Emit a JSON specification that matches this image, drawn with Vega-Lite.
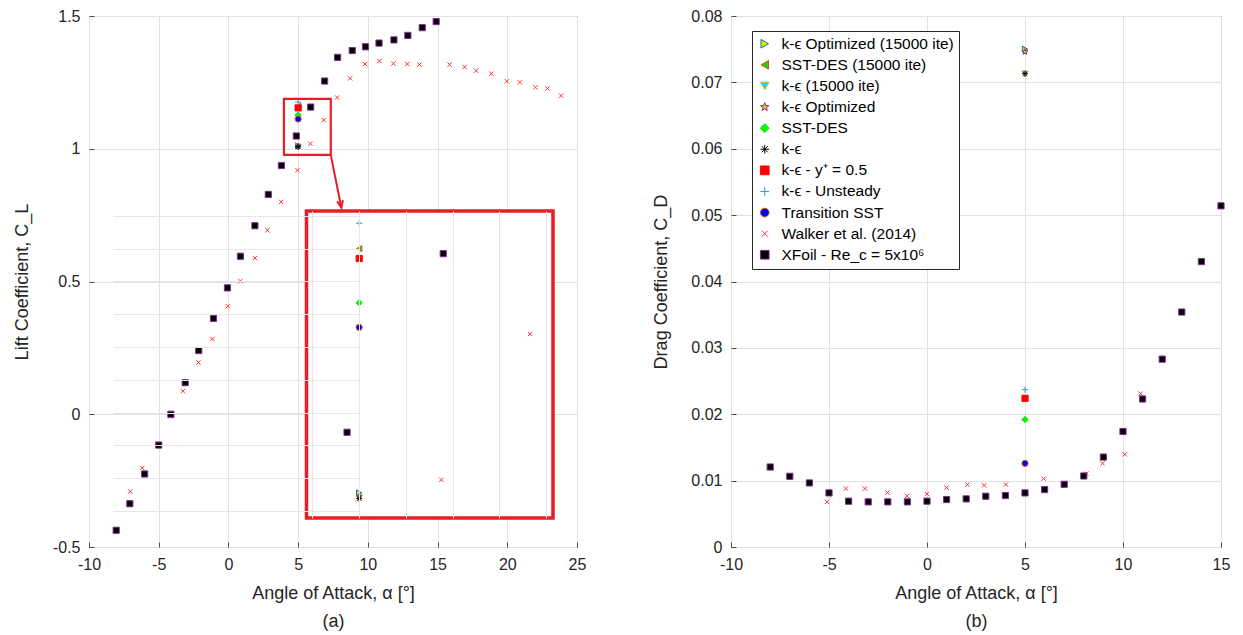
{
"$schema": "https://vega.github.io/schema/vega-lite/v6.json",
"background": "white",
"padding": {"left": 12, "top": 7, "right": 5, "bottom": 0},
"config": {
  "font": "Liberation Sans",
  "view": {"stroke": "#4d4d4d", "strokeWidth": 1},
  "axis": {"labelFont": "Liberation Sans", "labelFontSize": 16, "labelColor": "#262626", "titleFont": "Liberation Sans", "titleFontSize": 18, "titleFontWeight": "normal", "titleColor": "#262626", "gridColor": "#e1e1e1", "gridOpacity": 1, "domain": false, "tickColor": "#4d4d4d", "tickSize": -5, "labelPadding": 14, "labelFlush": false},
  "legend": {"orient": "none", "legendX": 21, "legendY": 15, "labelFont": "Liberation Sans", "labelFontSize": 15.5, "labelColor": "#000000", "symbolSize": 75, "rowPadding": 4.1, "padding": 5, "strokeColor": "#262626", "fillColor": "white", "labelOffset": 9, "labelLimit": 400, "symbolOpacity": 1, "symbolStrokeWidth": 1}
},
"datasets": {
  "cl": [
    {"series": "k-ϵ Optimized (15000 ite)", "alpha": 5, "CL": 1.011},
    {"series": "SST-DES (15000 ite)", "alpha": 5, "CL": 1.160},
    {"series": "k-ϵ (15000 ite)", "alpha": 5, "CL": 1.008},
    {"series": "k-ϵ Optimized", "alpha": 5, "CL": 1.009},
    {"series": "SST-DES", "alpha": 5, "CL": 1.127},
    {"series": "k-ϵ", "alpha": 5, "CL": 1.0075},
    {"series": "k-ϵ - y⁺ = 0.5", "alpha": 5, "CL": 1.154},
    {"series": "k-ϵ - Unsteady", "alpha": 5, "CL": 1.1755},
    {"series": "Transition SST", "alpha": 5, "CL": 1.112},
    {"series": "Walker et al. (2014)", "alpha": -7.04, "CL": -0.291},
    {"series": "Walker et al. (2014)", "alpha": -6.18, "CL": -0.202},
    {"series": "Walker et al. (2014)", "alpha": -4.15, "CL": -0.008},
    {"series": "Walker et al. (2014)", "alpha": -3.27, "CL": 0.087},
    {"series": "Walker et al. (2014)", "alpha": -2.15, "CL": 0.195},
    {"series": "Walker et al. (2014)", "alpha": -1.15, "CL": 0.284},
    {"series": "Walker et al. (2014)", "alpha": -0.05, "CL": 0.407},
    {"series": "Walker et al. (2014)", "alpha": 0.86, "CL": 0.502},
    {"series": "Walker et al. (2014)", "alpha": 1.9, "CL": 0.588},
    {"series": "Walker et al. (2014)", "alpha": 2.8, "CL": 0.693},
    {"series": "Walker et al. (2014)", "alpha": 3.78, "CL": 0.80},
    {"series": "Walker et al. (2014)", "alpha": 4.95, "CL": 0.919},
    {"series": "Walker et al. (2014)", "alpha": 5.88, "CL": 1.019},
    {"series": "Walker et al. (2014)", "alpha": 6.83, "CL": 1.108},
    {"series": "Walker et al. (2014)", "alpha": 7.8, "CL": 1.193},
    {"series": "Walker et al. (2014)", "alpha": 8.73, "CL": 1.265},
    {"series": "Walker et al. (2014)", "alpha": 9.8, "CL": 1.319},
    {"series": "Walker et al. (2014)", "alpha": 10.83, "CL": 1.33},
    {"series": "Walker et al. (2014)", "alpha": 11.83, "CL": 1.321},
    {"series": "Walker et al. (2014)", "alpha": 12.83, "CL": 1.319},
    {"series": "Walker et al. (2014)", "alpha": 13.7, "CL": 1.317},
    {"series": "Walker et al. (2014)", "alpha": 15.86, "CL": 1.317},
    {"series": "Walker et al. (2014)", "alpha": 16.94, "CL": 1.308},
    {"series": "Walker et al. (2014)", "alpha": 17.77, "CL": 1.294},
    {"series": "Walker et al. (2014)", "alpha": 18.85, "CL": 1.283},
    {"series": "Walker et al. (2014)", "alpha": 19.97, "CL": 1.254},
    {"series": "Walker et al. (2014)", "alpha": 20.9, "CL": 1.25},
    {"series": "Walker et al. (2014)", "alpha": 22.02, "CL": 1.231},
    {"series": "Walker et al. (2014)", "alpha": 22.88, "CL": 1.227},
    {"series": "Walker et al. (2014)", "alpha": 23.86, "CL": 1.20},
    {"series": "XFoil - Re_c = 5x10⁶", "alpha": -8.05, "CL": -0.437},
    {"series": "XFoil - Re_c = 5x10⁶", "alpha": -7.07, "CL": -0.337},
    {"series": "XFoil - Re_c = 5x10⁶", "alpha": -6.01, "CL": -0.225},
    {"series": "XFoil - Re_c = 5x10⁶", "alpha": -5.0, "CL": -0.116},
    {"series": "XFoil - Re_c = 5x10⁶", "alpha": -4.13, "CL": 0.0},
    {"series": "XFoil - Re_c = 5x10⁶", "alpha": -3.1, "CL": 0.119},
    {"series": "XFoil - Re_c = 5x10⁶", "alpha": -2.13, "CL": 0.240},
    {"series": "XFoil - Re_c = 5x10⁶", "alpha": -1.07, "CL": 0.361},
    {"series": "XFoil - Re_c = 5x10⁶", "alpha": -0.07, "CL": 0.476},
    {"series": "XFoil - Re_c = 5x10⁶", "alpha": 0.86, "CL": 0.595},
    {"series": "XFoil - Re_c = 5x10⁶", "alpha": 1.9, "CL": 0.71},
    {"series": "XFoil - Re_c = 5x10⁶", "alpha": 2.86, "CL": 0.828},
    {"series": "XFoil - Re_c = 5x10⁶", "alpha": 3.8, "CL": 0.937},
    {"series": "XFoil - Re_c = 5x10⁶", "alpha": 4.87, "CL": 1.048},
    {"series": "XFoil - Re_c = 5x10⁶", "alpha": 5.9, "CL": 1.157},
    {"series": "XFoil - Re_c = 5x10⁶", "alpha": 6.9, "CL": 1.255},
    {"series": "XFoil - Re_c = 5x10⁶", "alpha": 7.83, "CL": 1.344},
    {"series": "XFoil - Re_c = 5x10⁶", "alpha": 8.88, "CL": 1.37},
    {"series": "XFoil - Re_c = 5x10⁶", "alpha": 9.83, "CL": 1.384},
    {"series": "XFoil - Re_c = 5x10⁶", "alpha": 10.8, "CL": 1.398},
    {"series": "XFoil - Re_c = 5x10⁶", "alpha": 11.87, "CL": 1.41},
    {"series": "XFoil - Re_c = 5x10⁶", "alpha": 12.87, "CL": 1.427},
    {"series": "XFoil - Re_c = 5x10⁶", "alpha": 13.9, "CL": 1.456},
    {"series": "XFoil - Re_c = 5x10⁶", "alpha": 14.9, "CL": 1.479}
  ],
  "cd": [
    {"series": "k-ϵ Optimized (15000 ite)", "alpha": 5, "CD": 0.0750},
    {"series": "SST-DES (15000 ite)", "alpha": 5, "CD": 0.0224},
    {"series": "k-ϵ (15000 ite)", "alpha": 5, "CD": 0.0713},
    {"series": "k-ϵ Optimized", "alpha": 5, "CD": 0.0746},
    {"series": "SST-DES", "alpha": 5, "CD": 0.0192},
    {"series": "k-ϵ", "alpha": 5, "CD": 0.0713},
    {"series": "k-ϵ - y⁺ = 0.5", "alpha": 5, "CD": 0.0224},
    {"series": "k-ϵ - Unsteady", "alpha": 5, "CD": 0.0237},
    {"series": "Transition SST", "alpha": 5, "CD": 0.0126},
    {"series": "Walker et al. (2014)", "alpha": -5.1, "CD": 0.0068},
    {"series": "Walker et al. (2014)", "alpha": -4.14, "CD": 0.0088},
    {"series": "Walker et al. (2014)", "alpha": -3.17, "CD": 0.0088},
    {"series": "Walker et al. (2014)", "alpha": -2.02, "CD": 0.0082},
    {"series": "Walker et al. (2014)", "alpha": -1.02, "CD": 0.0077},
    {"series": "Walker et al. (2014)", "alpha": 0, "CD": 0.0080},
    {"series": "Walker et al. (2014)", "alpha": 1.0, "CD": 0.00895},
    {"series": "Walker et al. (2014)", "alpha": 2.06, "CD": 0.0094},
    {"series": "Walker et al. (2014)", "alpha": 2.92, "CD": 0.0093},
    {"series": "Walker et al. (2014)", "alpha": 4.03, "CD": 0.0094},
    {"series": "Walker et al. (2014)", "alpha": 5.95, "CD": 0.0103},
    {"series": "Walker et al. (2014)", "alpha": 8.13, "CD": 0.01105},
    {"series": "Walker et al. (2014)", "alpha": 8.96, "CD": 0.0126},
    {"series": "Walker et al. (2014)", "alpha": 10.09, "CD": 0.01395},
    {"series": "Walker et al. (2014)", "alpha": 10.9, "CD": 0.0231},
    {"series": "XFoil - Re_c = 5x10⁶", "alpha": -8, "CD": 0.01205},
    {"series": "XFoil - Re_c = 5x10⁶", "alpha": -7, "CD": 0.01065},
    {"series": "XFoil - Re_c = 5x10⁶", "alpha": -6, "CD": 0.00965},
    {"series": "XFoil - Re_c = 5x10⁶", "alpha": -5, "CD": 0.00815},
    {"series": "XFoil - Re_c = 5x10⁶", "alpha": -4, "CD": 0.0069},
    {"series": "XFoil - Re_c = 5x10⁶", "alpha": -3, "CD": 0.0068},
    {"series": "XFoil - Re_c = 5x10⁶", "alpha": -2, "CD": 0.0068},
    {"series": "XFoil - Re_c = 5x10⁶", "alpha": -1, "CD": 0.0068},
    {"series": "XFoil - Re_c = 5x10⁶", "alpha": 0, "CD": 0.0069},
    {"series": "XFoil - Re_c = 5x10⁶", "alpha": 1, "CD": 0.00715},
    {"series": "XFoil - Re_c = 5x10⁶", "alpha": 2, "CD": 0.00725},
    {"series": "XFoil - Re_c = 5x10⁶", "alpha": 3, "CD": 0.00765},
    {"series": "XFoil - Re_c = 5x10⁶", "alpha": 4, "CD": 0.00775},
    {"series": "XFoil - Re_c = 5x10⁶", "alpha": 5, "CD": 0.00815},
    {"series": "XFoil - Re_c = 5x10⁶", "alpha": 6, "CD": 0.00865},
    {"series": "XFoil - Re_c = 5x10⁶", "alpha": 7, "CD": 0.00945},
    {"series": "XFoil - Re_c = 5x10⁶", "alpha": 8, "CD": 0.0107},
    {"series": "XFoil - Re_c = 5x10⁶", "alpha": 9, "CD": 0.01355},
    {"series": "XFoil - Re_c = 5x10⁶", "alpha": 10, "CD": 0.0174},
    {"series": "XFoil - Re_c = 5x10⁶", "alpha": 11, "CD": 0.0223},
    {"series": "XFoil - Re_c = 5x10⁶", "alpha": 12, "CD": 0.0283},
    {"series": "XFoil - Re_c = 5x10⁶", "alpha": 13, "CD": 0.0354},
    {"series": "XFoil - Re_c = 5x10⁶", "alpha": 14, "CD": 0.0430},
    {"series": "XFoil - Re_c = 5x10⁶", "alpha": 15, "CD": 0.0514}
  ]
},
"resolve": {"scale": {"shape": "independent", "fill": "independent", "stroke": "independent"}},
"spacing": 65,
"hconcat": [
  {
    "width": 488, "height": 531,
    "resolve": {"scale": {"x": "independent", "y": "independent"}},
    "layer": [
      {
        "layer": [
          {
            "data": {"name": "cl"},
            "mark": {"type": "point", "filled": true, "opacity": 1, "strokeWidth": 1, "size": 38},
            "encoding": {
              "x": {"field": "alpha", "type": "quantitative", "scale": {"domain": [-10, 25], "nice": false, "zero": false},
                    "axis": {"values": [-10, -5, 0, 5, 10, 15, 20, 25], "labelExpr": "datum.value < 0 ? '-' + format(-datum.value, '~g') : format(datum.value, '~g')", "title": ["Angle of Attack, α [°]", "(a)"], "titleLineHeight": 28, "titlePadding": 12}},
              "y": {"field": "CL", "type": "quantitative", "scale": {"domain": [-0.5, 1.5], "nice": false, "zero": false},
                    "axis": {"values": [-0.5, 0, 0.5, 1, 1.5], "labelExpr": "datum.value < 0 ? '-' + format(-datum.value, '~g') : format(datum.value, '~g')", "title": "Lift Coefficient, C_L", "titlePadding": 21}},
              "shape": {"field": "series", "type": "nominal", "legend": null,
                        "scale": {"domain": ["k-ϵ Optimized (15000 ite)", "SST-DES (15000 ite)", "k-ϵ (15000 ite)", "k-ϵ Optimized", "SST-DES", "k-ϵ", "k-ϵ - y⁺ = 0.5", "k-ϵ - Unsteady", "Transition SST", "Walker et al. (2014)", "XFoil - Re_c = 5x10⁶"],
                                  "range": ["triangle-right", "triangle-left", "triangle-down", "M0,-1L0.235,-0.324L0.951,-0.309L0.38,0.124L0.588,0.809L0,0.4L-0.588,0.809L-0.38,0.124L-0.951,-0.309L-0.235,-0.324Z", "diamond", "M-1,0L1,0M0,-1L0,1M-0.7,-0.7L0.7,0.7M-0.7,0.7L0.7,-0.7", "square", "M-1,0L1,0M0,-1L0,1", "circle", "M-0.7,-0.7L0.7,0.7M-0.7,0.7L0.7,-0.7", "square"]}},
              "fill": {"field": "series", "type": "nominal", "legend": null,
                       "scale": {"domain": ["k-ϵ Optimized (15000 ite)", "SST-DES (15000 ite)", "k-ϵ (15000 ite)", "k-ϵ Optimized", "SST-DES", "k-ϵ", "k-ϵ - y⁺ = 0.5", "k-ϵ - Unsteady", "Transition SST", "Walker et al. (2014)", "XFoil - Re_c = 5x10⁶"],
                                 "range": ["#e8e800", "#33cc00", "#00e5ff", "#f0d000", "#00ff00", "transparent", "#ff0000", "transparent", "#0000ff", "transparent", "#000000"]}},
              "stroke": {"field": "series", "type": "nominal", "legend": null,
                         "scale": {"domain": ["k-ϵ Optimized (15000 ite)", "SST-DES (15000 ite)", "k-ϵ (15000 ite)", "k-ϵ Optimized", "SST-DES", "k-ϵ", "k-ϵ - y⁺ = 0.5", "k-ϵ - Unsteady", "Transition SST", "Walker et al. (2014)", "XFoil - Re_c = 5x10⁶"],
                                   "range": ["#0072bd", "#d95319", "#edb120", "#7e2f8e", "#00dd00", "#000000", "#ff0000", "#3a8fd9", "#d95319", "#ff3030", "#7e2f8e"]}}
            }
          },
          {
            "data": {"values": [{}]},
            "mark": {"type": "rect", "fill": null, "fillOpacity": 0, "stroke": "#ec1c24", "strokeWidth": 2.2},
            "encoding": {"x": {"datum": 3.98}, "x2": {"datum": 7.34}, "y": {"datum": 0.977}, "y2": {"datum": 1.188}}
          },
          {
            "data": {"values": [{}]},
            "mark": {"type": "rule", "stroke": "#ec1c24", "strokeWidth": 2},
            "encoding": {"x": {"datum": 7.34}, "y": {"datum": 0.977}, "x2": {"datum": 8.1}, "y2": {"datum": 0.778}}
          },
          {
            "data": {"values": [{}]},
            "mark": {"type": "point", "shape": "M-0.5,-1.2L0,0L0.5,-1.2", "size": 140, "angle": 349, "filled": false, "stroke": "#ec1c24", "strokeWidth": 2, "opacity": 1},
            "encoding": {"x": {"datum": 8.1}, "y": {"datum": 0.778}}
          }
        ]
      },
      {
        "layer": [
          {
            "data": {"values": [{}]},
            "mark": {"type": "rect", "fill": "white", "stroke": "#ec1c24", "strokeWidth": 3.5},
            "encoding": {
              "x": {"datum": 4.436, "scale": {"domain": [4.436, 7.075], "range": [217.5, 464], "nice": false, "zero": false},
                    "axis": {"values": [4.5, 5, 5.5, 6, 6.5, 7], "grid": true, "labels": false, "ticks": false, "domain": false, "title": null, "zindex": 1, "gridColor": "#e6e6e6"}},
              "x2": {"datum": 7.075},
              "y": {"datum": 0.9957, "scale": {"domain": [0.9957, 1.183], "range": [502, 195], "nice": false, "zero": false},
                    "axis": {"values": [1.0, 1.02, 1.04, 1.06, 1.08, 1.1, 1.12, 1.14, 1.16, 1.18], "grid": true, "labels": false, "ticks": false, "domain": false, "title": null, "zindex": 1, "gridColor": "#e6e6e6"}},
              "y2": {"datum": 1.183}
            }
          },
          {
            "data": {"name": "cl"},
            "transform": [{"filter": "datum.alpha >= 4.44 && datum.alpha <= 7.07 && datum.CL >= 0.996 && datum.CL <= 1.183"}],
            "mark": {"type": "point", "filled": true, "opacity": 1, "strokeWidth": 1, "size": 38},
            "encoding": {
              "x": {"field": "alpha", "type": "quantitative"},
              "y": {"field": "CL", "type": "quantitative"},
              "shape": {"field": "series", "type": "nominal", "legend": null},
              "fill": {"field": "series", "type": "nominal", "legend": null},
              "stroke": {"field": "series", "type": "nominal", "legend": null}
            }
          }
        ]
      }
    ]
  },
  {
    "width": 490, "height": 531,
    "data": {"name": "cd"},
    "mark": {"type": "point", "filled": true, "opacity": 1, "strokeWidth": 1, "size": 38},
    "encoding": {
      "x": {"field": "alpha", "type": "quantitative", "scale": {"domain": [-10, 15], "nice": false, "zero": false},
            "axis": {"values": [-10, -5, 0, 5, 10, 15], "labelExpr": "datum.value < 0 ? '-' + format(-datum.value, '~g') : format(datum.value, '~g')", "title": ["Angle of Attack, α [°]", "(b)"], "titleLineHeight": 28, "titlePadding": 12}},
      "y": {"field": "CD", "type": "quantitative", "scale": {"domain": [0, 0.08], "nice": false, "zero": false},
            "axis": {"values": [0, 0.01, 0.02, 0.03, 0.04, 0.05, 0.06, 0.07, 0.08], "format": "~g", "title": "Drag Coefficient, C_D", "titlePadding": 20}},
      "shape": {"field": "series", "type": "nominal", "legend": {"title": null},
                "scale": {"domain": ["k-ϵ Optimized (15000 ite)", "SST-DES (15000 ite)", "k-ϵ (15000 ite)", "k-ϵ Optimized", "SST-DES", "k-ϵ", "k-ϵ - y⁺ = 0.5", "k-ϵ - Unsteady", "Transition SST", "Walker et al. (2014)", "XFoil - Re_c = 5x10⁶"],
                          "range": ["triangle-right", "triangle-left", "triangle-down", "M0,-1L0.235,-0.324L0.951,-0.309L0.38,0.124L0.588,0.809L0,0.4L-0.588,0.809L-0.38,0.124L-0.951,-0.309L-0.235,-0.324Z", "diamond", "M-1,0L1,0M0,-1L0,1M-0.7,-0.7L0.7,0.7M-0.7,0.7L0.7,-0.7", "square", "M-1,0L1,0M0,-1L0,1", "circle", "M-0.7,-0.7L0.7,0.7M-0.7,0.7L0.7,-0.7", "square"]}},
      "fill": {"field": "series", "type": "nominal", "legend": {"title": null},
               "scale": {"domain": ["k-ϵ Optimized (15000 ite)", "SST-DES (15000 ite)", "k-ϵ (15000 ite)", "k-ϵ Optimized", "SST-DES", "k-ϵ", "k-ϵ - y⁺ = 0.5", "k-ϵ - Unsteady", "Transition SST", "Walker et al. (2014)", "XFoil - Re_c = 5x10⁶"],
                         "range": ["#e8e800", "#33cc00", "#00e5ff", "#f0d000", "#00ff00", "transparent", "#ff0000", "transparent", "#0000ff", "transparent", "#000000"]}},
      "stroke": {"field": "series", "type": "nominal", "legend": {"title": null},
                 "scale": {"domain": ["k-ϵ Optimized (15000 ite)", "SST-DES (15000 ite)", "k-ϵ (15000 ite)", "k-ϵ Optimized", "SST-DES", "k-ϵ", "k-ϵ - y⁺ = 0.5", "k-ϵ - Unsteady", "Transition SST", "Walker et al. (2014)", "XFoil - Re_c = 5x10⁶"],
                           "range": ["#0072bd", "#d95319", "#edb120", "#7e2f8e", "#00dd00", "#000000", "#ff0000", "#3a8fd9", "#d95319", "#ff3030", "#7e2f8e"]}}
    }
  }
]
}
